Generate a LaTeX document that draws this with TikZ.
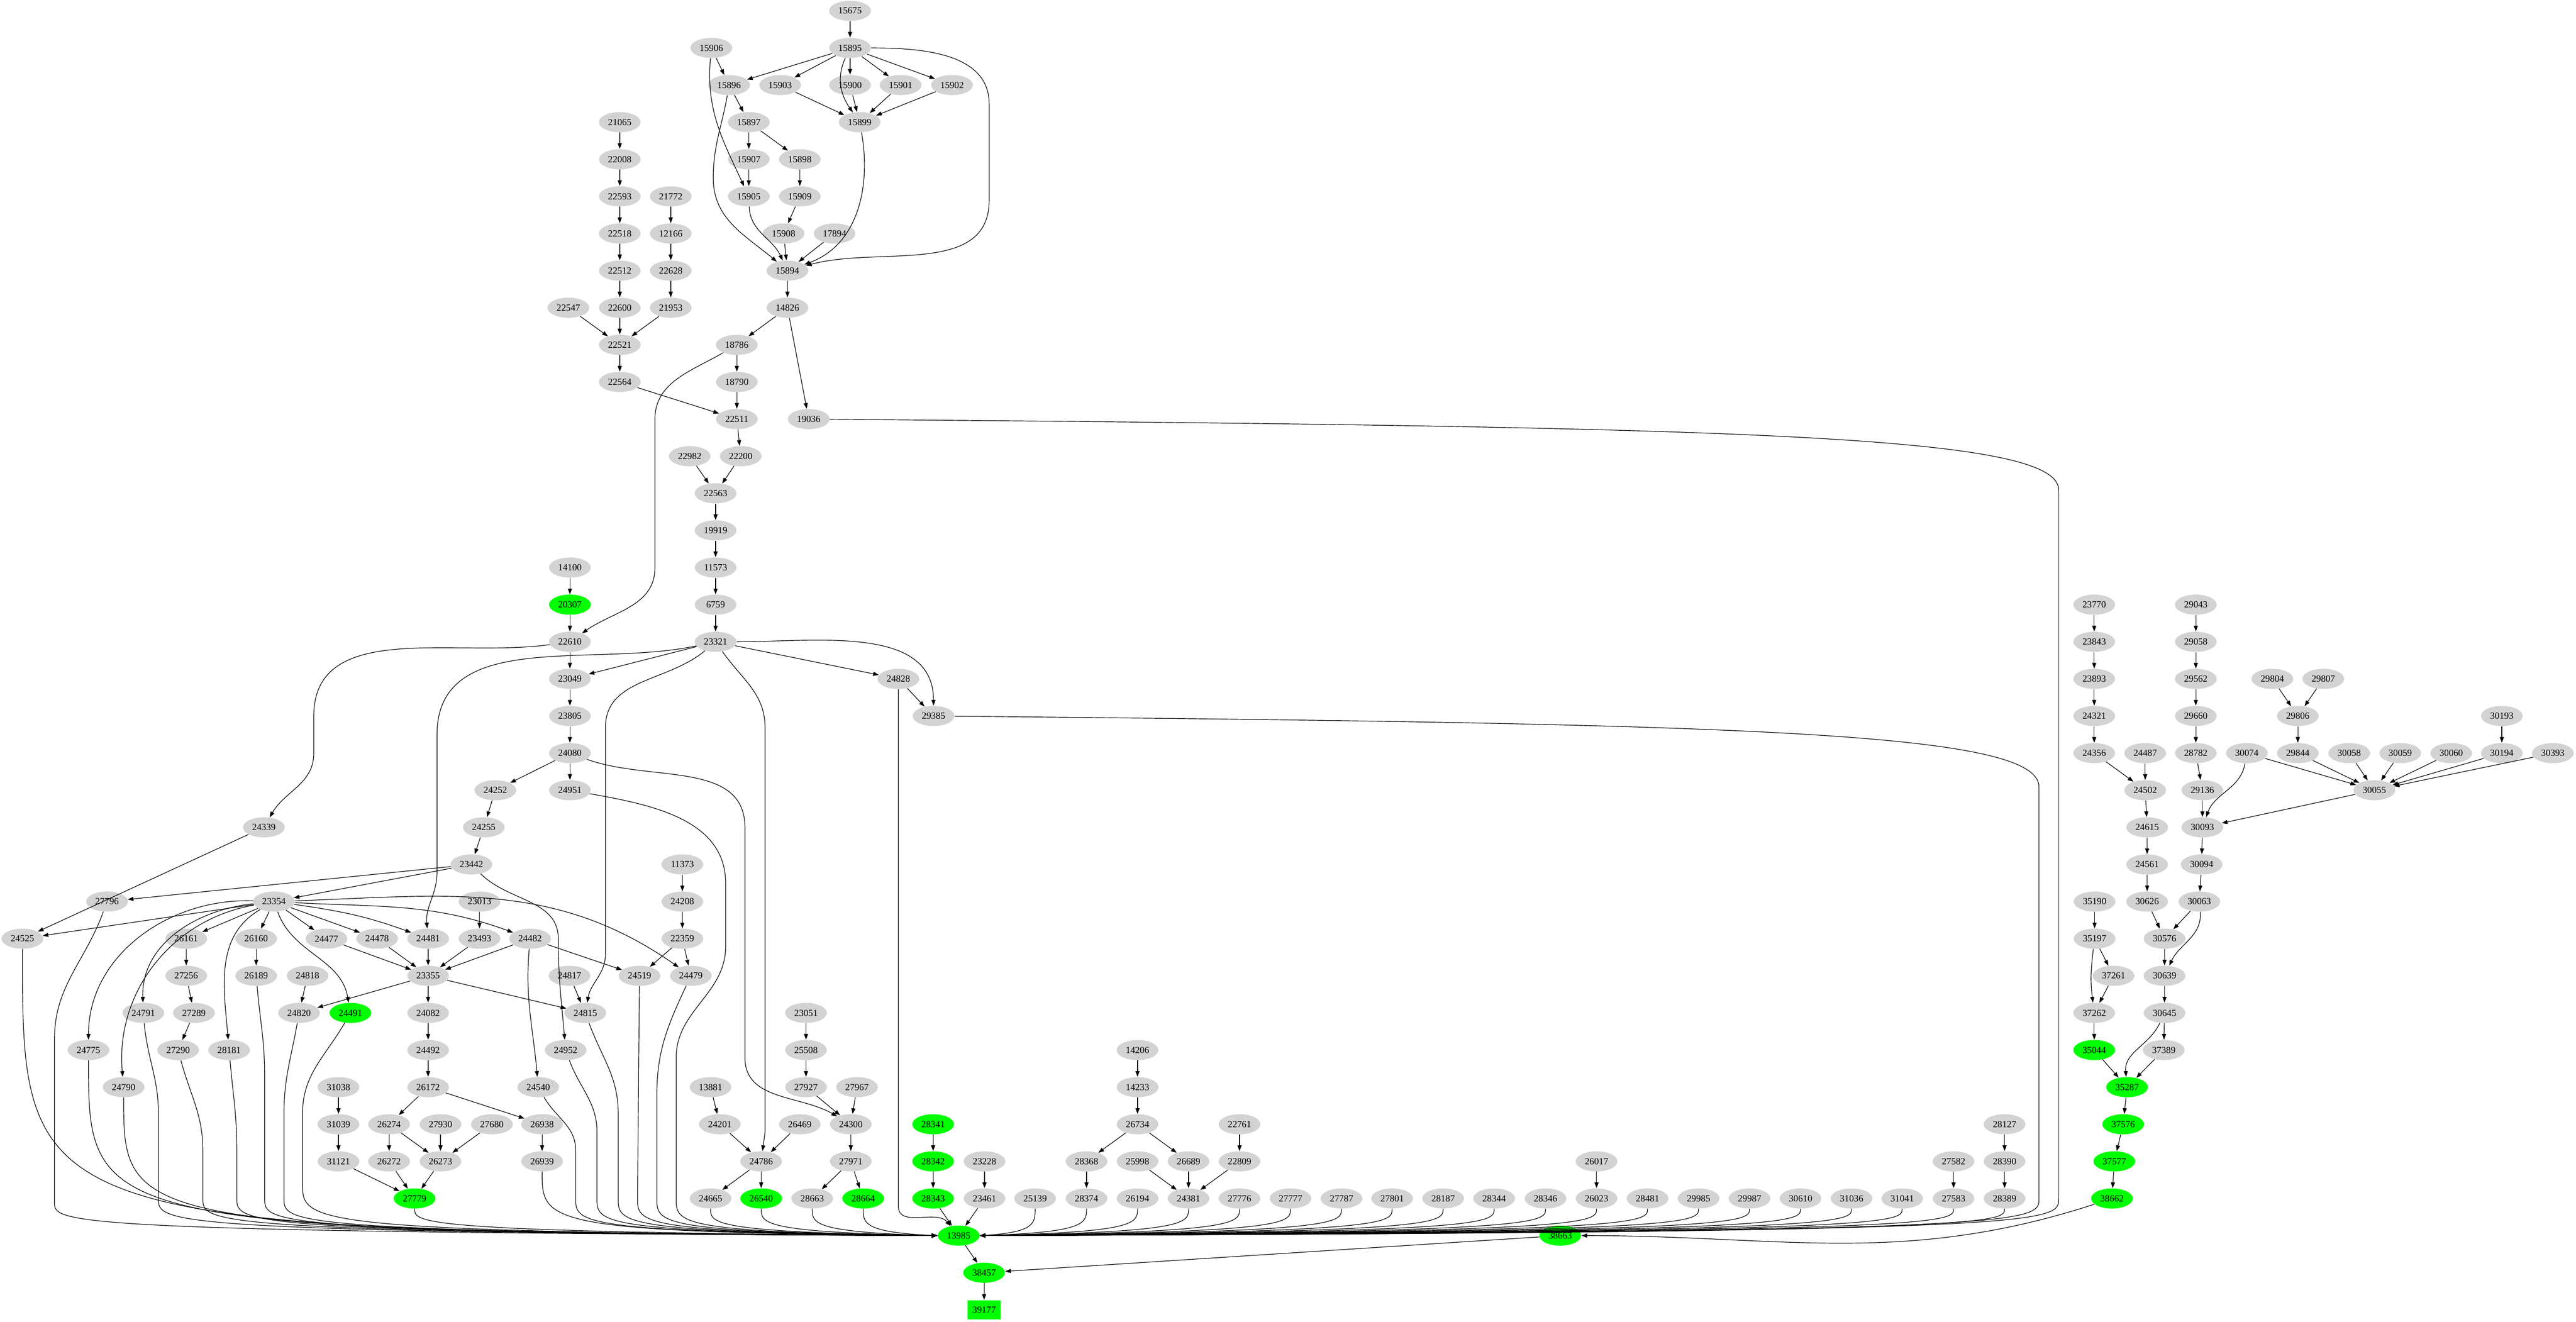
\documentclass[tikz,border=0pt]{standalone}
\usepackage{fontspec}
\setmainfont{Liberation Serif}
\usetikzlibrary{shapes.geometric,arrows.meta}
\definecolor{ng}{HTML}{D3D3D3}
\definecolor{gg}{HTML}{00FF00}
\tikzset{
  g/.style={ellipse,fill=ng,minimum width=1.08cm,minimum height=0.52cm,inner sep=0pt,font=\fontsize{6.9}{8}\selectfont},
  gr/.style={g,fill=gg},
  bx/.style={rectangle,fill=gg,minimum width=0.85cm,minimum height=0.5cm,inner sep=0pt,font=\fontsize{6.9}{8}\selectfont},
  e/.style={draw,line width=0.45pt,-{Triangle[length=4.2pt,width=3pt]}}
}
\newcommand\N[4][g]{\node[#1] (n#2) at (#3,{#4+0.2917}) {#2};}
\newcommand\E[2]{\draw[e] (n#1) -- (n#2);}
\newcommand\SL[2]{\draw[e] #1 .. controls (#2,32.95) and (#2,33.2) .. (n13985.west);}
\newcommand\SR[2]{\draw[e] #1 .. controls (#2,32.95) and (#2,33.2) .. (n13985.east);}
\begin{document}
\begin{tikzpicture}[x=0.01cm,y=-0.96cm]
\useasboundingbox (0,0) rectangle (6667,35.615);
% nodes
\N{15675}{2200}{0}
\N{15906}{1841}{1}\N{15895}{2200}{1}
\N{15896}{1887}{2}\N{15903}{2019}{2}\N{15900}{2200}{2}\N{15901}{2331}{2}\N{15902}{2464}{2}
\N{21065}{1604}{3}\N{15897}{1938}{3}\N{15899}{2225}{3}
\N{22008}{1604}{4}\N{15907}{1938}{4}\N{15898}{2070}{4}
\N{22593}{1604}{5}\N{21772}{1736}{5}\N{15905}{1938}{5}\N{15909}{2070}{5}
\N{22518}{1604}{6}\N{12166}{1736}{6}\N{15908}{2028}{6}\N{17894}{2160}{6}
\N{22512}{1604}{7}\N{22628}{1736}{7}\N{15894}{2038}{7}
\N{22547}{1471}{8}\N{22600}{1604}{8}\N{21953}{1736}{8}\N{14826}{2038}{8}
\N{22521}{1604}{9}\N{18786}{1907}{9}
\N{22564}{1604}{10}\N{18790}{1907}{10}
\N{22511}{1907}{11}\N{19036}{2093}{11}
\N{22982}{1785}{12}\N{22200}{1917}{12}
\N{22563}{1852}{13}
\N{19919}{1852}{14}
\N{14100}{1475}{15}\N{11573}{1852}{15}
\N[gr]{20307}{1475}{16}\N{6759}{1852}{16}\N{23770}{5420}{16}\N{29043}{5683}{16}
\N{22610}{1475}{17}\N{23321}{1852}{17}\N{23843}{5420}{17}\N{29058}{5683}{17}
\N{23049}{1475}{18}\N{24828}{2325}{18}\N{23893}{5420}{18}\N{29562}{5683}{18}\N{29804}{5881}{18}\N{29807}{6013}{18}
\N{23805}{1475}{19}\N{29385}{2416}{19}\N{24321}{5420}{19}\N{29660}{5683}{19}\N{29806}{5947}{19}\N{30193}{6475}{19}
\N{24080}{1475}{20}\N{24356}{5420}{20}\N{24487}{5552}{20}\N{28782}{5683}{20}\N{30074}{5815}{20}\N{29844}{5947}{20}\N{30058}{6080}{20}\N{30059}{6212}{20}\N{30060}{6344}{20}\N{30194}{6475}{20}\N{30393}{6607}{20}
\N{24252}{1282}{21}\N{24951}{1475}{21}\N{24502}{5552}{21}\N{29136}{5700}{21}\N{30055}{6145}{21}
\N{24339}{683}{22}\N{24255}{1252}{22}\N{24615}{5557}{22}\N{30093}{5700}{22}
\N{23442}{1220}{23}\N{11373}{1766}{23}\N{24561}{5557}{23}\N{30094}{5698}{23}
\N{27796}{277}{24}\N{23354}{709}{24}\N{23013}{1241}{24}\N{24208}{1766}{24}\N{35190}{5421}{24}\N{30626}{5557}{24}\N{30063}{5692}{24}
\N{24525}{58}{25}\N{26161}{482}{25}\N{26160}{663}{25}\N{24477}{845}{25}\N{24478}{976}{25}\N{24481}{1108}{25}\N{23493}{1241}{25}\N{24482}{1372}{25}\N{22359}{1766}{25}\N{35197}{5421}{25}\N{30576}{5602}{25}
\N{27256}{482}{26}\N{26189}{663}{26}\N{24818}{796}{26}\N{23355}{1108}{26}\N{24817}{1474}{26}\N{24519}{1655}{26}\N{24479}{1788}{26}\N{37261}{5470}{26}\N{30639}{5602}{26}
\N{24791}{371}{27}\N{27289}{502}{27}\N{24820}{774}{27}\N[gr]{24491}{907}{27}\N{24082}{1108}{27}\N{24815}{1515}{27}\N{23051}{2086}{27}\N{37262}{5420}{27}\N{30645}{5602}{27}
\N{24775}{229}{28}\N{27290}{461}{28}\N{28181}{593}{28}\N{24492}{1108}{28}\N{24952}{1464}{28}\N{25508}{2086}{28}\N{14206}{2944}{28}\N[gr]{35044}{5420}{28}\N{37389}{5600}{28}
\N{24790}{320}{29}\N{31038}{876}{29}\N{26172}{1108}{29}\N{24540}{1393}{29}\N{13881}{1839}{29}\N{27927}{2086}{29}\N{27967}{2218}{29}\N{14233}{2944}{29}\N[gr]{35287}{5505}{29}
\N{31039}{876}{30}\N{26274}{1007}{30}\N{27930}{1140}{30}\N{27680}{1273}{30}\N{26938}{1403}{30}\N{24201}{1863}{30}\N{26469}{2070}{30}\N{24300}{2202}{30}\N[gr]{28341}{2415}{30}\N{26734}{2944}{30}\N{22761}{3208}{30}\N{28127}{5188}{30}\N[gr]{37576}{5495}{30}
\N{31121}{876}{31}\N{26272}{1007}{31}\N{26273}{1140}{31}\N{26939}{1403}{31}\N{24786}{1970}{31}\N{27971}{2202}{31}\N[gr]{28342}{2415}{31}\N{23228}{2548}{31}\N{28368}{2812}{31}\N{25998}{2944}{31}\N{26689}{3076}{31}\N{22809}{3208}{31}\N{26017}{4132}{31}\N{27582}{5056}{31}\N{28390}{5188}{31}\N[gr]{37577}{5472}{31}
\N[gr]{27779}{1073}{32}\N{24665}{1839}{32}\N[gr]{26540}{1970}{32}\N{28663}{2102}{32}\N[gr]{28664}{2234}{32}\N[gr]{28343}{2415}{32}\N{23461}{2548}{32}\N{25139}{2679}{32}\N{28374}{2812}{32}\N{26194}{2944}{32}\N{24381}{3076}{32}\N{27776}{3208}{32}\N{27777}{3340}{32}\N{27787}{3472}{32}\N{27801}{3603}{32}\N{28187}{3735}{32}\N{28344}{3867}{32}\N{28346}{4000}{32}\N{26023}{4132}{32}\N{28481}{4264}{32}\N{29985}{4396}{32}\N{29987}{4528}{32}\N{30610}{4660}{32}\N{31036}{4792}{32}\N{31041}{4923}{32}\N{27583}{5056}{32}\N{28389}{5188}{32}\N[gr]{38662}{5466}{32}
\N[gr]{13985}{2481}{33}\N[gr]{38663}{4038}{33}
\N[gr]{38457}{2547}{34}
\N[bx]{39177}{2547}{35}
% top cluster
\E{15675}{15895}
\E{15906}{15896}
\draw[e] (n15906) to[out=-95,in=115] (n15905);
\E{15895}{15896}\E{15895}{15903}\E{15895}{15900}\E{15895}{15901}\E{15895}{15902}
\draw[e] (n15895) to[out=-115,in=125] (n15899);
\draw[e] (n15895) to[out=0,in=90] (2560,2.8) -- (2560,5.4) to[out=-90,in=15] (n15894);
\E{15903}{15899}\E{15900}{15899}\E{15901}{15899}\E{15902}{15899}
\E{15896}{15897}
\draw[e] (n15896) to[out=-100,in=90] (1846,4.8) to[out=-90,in=140] (n15894);
\E{15897}{15907}\E{15897}{15898}\E{15907}{15905}\E{15898}{15909}\E{15909}{15908}
\draw[e] (n15905) to[out=-88,in=115] (n15894);
\E{15908}{15894}\E{17894}{15894}
\draw[e] (n15899) to[out=-80,in=20] (n15894);
\E{15894}{14826}\E{14826}{18786}\E{14826}{19036}
\E{21065}{22008}\E{22008}{22593}\E{22593}{22518}\E{22518}{22512}\E{22512}{22600}\E{22600}{22521}
\E{21772}{12166}\E{12166}{22628}\E{22628}{21953}\E{21953}{22521}\E{22547}{22521}
\E{22521}{22564}\E{22564}{22511}\E{18786}{18790}\E{18790}{22511}
\draw[e] (n18786) to[out=-150,in=90] (1695,11.3) -- (1695,15.3) to[out=-90,in=35] (n22610);
\E{22511}{22200}\E{22982}{22563}\E{22200}{22563}
\E{22563}{19919}\E{19919}{11573}\E{11573}{6759}\E{6759}{23321}
\E{14100}{20307}\E{20307}{22610}
\E{22610}{23049}
\draw[e] (n22610) to[out=188,in=90] (812,19.3) -- (812,20.3) to[out=-90,in=60] (n24339);
\E{23321}{23049}\E{23321}{24828}
\draw[e] (n23321) to[out=0,in=90] (n29385);
\E{24828}{29385}
\draw[e] (n23321) to[out=192,in=90] (1131,19.8) -- (1131,23.5) to[out=-90,in=95] (n24481);
\draw[e] (n23321) to[out=-140,in=90] (1567,19.6) -- (1567,25.7) to[out=-90,in=80] (n24815);
\draw[e] (n23321) to[out=-55,in=90] (1980,19.6) -- (1980,30.5) -- (n24786);
\E{23049}{23805}\E{23805}{24080}
\E{24080}{24252}\E{24080}{24951}
\draw[e] (n24080) to[out=-20,in=90] (1928,22.3) -- (1928,28.5) to[out=-90,in=150] (n24300);
\E{24252}{24255}\E{24255}{23442}
\E{23442}{27796}\E{23442}{23354}
\draw[e] (n23442) to[out=-45,in=90] (1445,25.3) to[out=-90,in=95] (n24952);
\E{24339}{24525}
% 23354 fan
\E{23354}{24525}
\draw[e] (n23354) to[out=178,in=90] (n24775);
\draw[e] (n23354) to[out=186,in=92] (n24791);
\draw[e] (n23354) to[out=190,in=95] (n24790);
\draw[e] (n23354) to[out=-150,in=95] (n28181);
\E{23354}{26161}\E{23354}{26160}
\draw[e] (n23354) to[out=-70,in=100] (n24491);
\E{23354}{24477}\E{23354}{24478}
\draw[e] (n23354) to[out=-8,in=160] (n24481);
\draw[e] (n23354) to[out=-3,in=160] (n24482);
\draw[e] (n23354) to[out=2,in=145] (n24479);
\E{26161}{27256}\E{27256}{27289}\E{27289}{27290}\E{26160}{26189}
\E{24477}{23355}\E{24478}{23355}\E{24481}{23355}\E{23493}{23355}\E{24482}{23355}\E{23013}{23493}
\E{24482}{24519}
\draw[e] (n24482) to[out=-95,in=95] (n24540);
\E{23355}{24820}\E{23355}{24815}\E{23355}{24082}\E{24818}{24820}\E{24817}{24815}
\E{11373}{24208}\E{24208}{22359}\E{22359}{24519}\E{22359}{24479}
\E{24082}{24492}\E{24492}{26172}\E{26172}{26274}\E{26172}{26938}
\E{26274}{26272}\E{26274}{26273}\E{27930}{26273}\E{27680}{26273}
\E{26272}{27779}\E{26273}{27779}\E{31121}{27779}\E{31038}{31039}\E{31039}{31121}\E{26938}{26939}
\E{23051}{25508}\E{25508}{27927}\E{27927}{24300}\E{27967}{24300}\E{24300}{27971}\E{27971}{28663}\E{27971}{28664}
\E{13881}{24201}\E{24201}{24786}\E{26469}{24786}\E{24786}{24665}\E{24786}{26540}
\E{28341}{28342}\E{28342}{28343}\E{23228}{23461}
\E{14206}{14233}\E{14233}{26734}\E{26734}{28368}\E{26734}{26689}\E{28368}{28374}
\E{25998}{24381}\E{26689}{24381}\E{22809}{24381}\E{22761}{22809}
\E{26017}{26023}\E{27582}{27583}\E{28127}{28390}\E{28390}{28389}
% right cluster
\E{23770}{23843}\E{23843}{23893}\E{23893}{24321}\E{24321}{24356}\E{24356}{24502}\E{24487}{24502}
\E{24502}{24615}\E{24615}{24561}\E{24561}{30626}\E{30626}{30576}\E{30576}{30639}\E{30639}{30645}
\E{30645}{37389}\E{37389}{35287}
\draw[e] (n30645) to[out=-115,in=95] (n35287);
\E{35190}{35197}\E{35197}{37261}\E{37261}{37262}
\draw[e] (n35197) to[out=-97,in=97] (n37262);
\E{37262}{35044}\E{35044}{35287}\E{35287}{37576}\E{37576}{37577}\E{37577}{38662}
\draw[e] (n38662) to[out=-162,in=0] (n38663);
\E{38663}{38457}
\E{29043}{29058}\E{29058}{29562}\E{29562}{29660}\E{29660}{28782}\E{28782}{29136}\E{29136}{30093}
\draw[e] (n30074) to[out=-100,in=70] (n30093);
\E{30074}{30055}\E{29804}{29806}\E{29807}{29806}\E{29806}{29844}\E{29844}{30055}
\E{30058}{30055}\E{30059}{30055}\E{30060}{30055}\E{30194}{30055}\E{30393}{30055}\E{30193}{30194}
\E{30055}{30093}\E{30093}{30094}\E{30094}{30063}\E{30063}{30576}
\draw[e] (n30063) to[out=-85,in=65] (n30639);
% into 13985
\SL{(n24525)}{58}
\SL{(n27796) to[out=-110,in=90] (141,28) -- (141,32.4)}{141}
\SL{(n24775)}{229}
\SL{(n24790)}{320}
\SL{(n24791) to[out=-85,in=90] (410,30) -- (410,32.3)}{410}
\SL{(n27290) to[out=-75,in=90] (525,31) -- (525,32.3)}{525}
\SL{(n28181) to[out=-85,in=90] (613,31) -- (613,32.3)}{613}
\SL{(n26189) to[out=-85,in=90] (685,29) -- (685,32.3)}{685}
\SL{(n24820) to[out=-100,in=90] (735,30) -- (735,32.3)}{735}
\SL{(n24491) to[out=-120,in=90] (783,30) -- (783,31.9)}{783}
\SL{(n27779)}{1073}
\SL{(n26939)}{1403}
\SL{(n24540) to[out=-60,in=90] (1490,31) -- (1490,32.3)}{1490}
\SL{(n24952) to[out=-70,in=90] (1545,30.5) -- (1545,32.3)}{1545}
\SL{(n24815) to[out=-70,in=90] (1600,30) -- (1600,32.3)}{1600}
\SL{(n24519) -- (1650,32.3)}{1650}
\SL{(n24479) to[out=-115,in=90] (1700,29.5) -- (1700,32.3)}{1700}
\SL{(n24951) to[out=-10,in=90] (1878,23.8) -- (1878,25.5) to[out=-90,in=90] (1750,28.5) -- (1750,32.3)}{1750}
\SL{(n24665)}{1839}
\SL{(n26540)}{1970}
\SL{(n28663)}{2102}
\SL{(n28664)}{2234}
\E{28343}{13985}\E{23461}{13985}
\draw[e] (n24828) -- (2325,32.5) to[out=-90,in=130] (n13985);
\SR{(n25139)}{2679}\SR{(n28374)}{2812}\SR{(n26194)}{2944}\SR{(n24381)}{3076}
\SR{(n27776)}{3208}\SR{(n27777)}{3340}\SR{(n27787)}{3472}\SR{(n27801)}{3603}
\SR{(n28187)}{3735}\SR{(n28344)}{3867}\SR{(n28346)}{4000}\SR{(n26023)}{4132}
\SR{(n28481)}{4264}\SR{(n29985)}{4396}\SR{(n29987)}{4528}\SR{(n30610)}{4660}
\SR{(n31036)}{4792}\SR{(n31041)}{4923}\SR{(n27583)}{5056}\SR{(n28389)}{5188}
\SR{(n19036) .. controls (4500,11.5) and (5328,11.7) .. (5328,13.2) -- (5328,32.3)}{5328}
\SR{(n29385) .. controls (4500,19.5) and (5277,19.7) .. (5277,21.2) -- (5277,32.3)}{5277}
\E{13985}{38457}\E{38457}{39177}
\end{tikzpicture}
\end{document}
